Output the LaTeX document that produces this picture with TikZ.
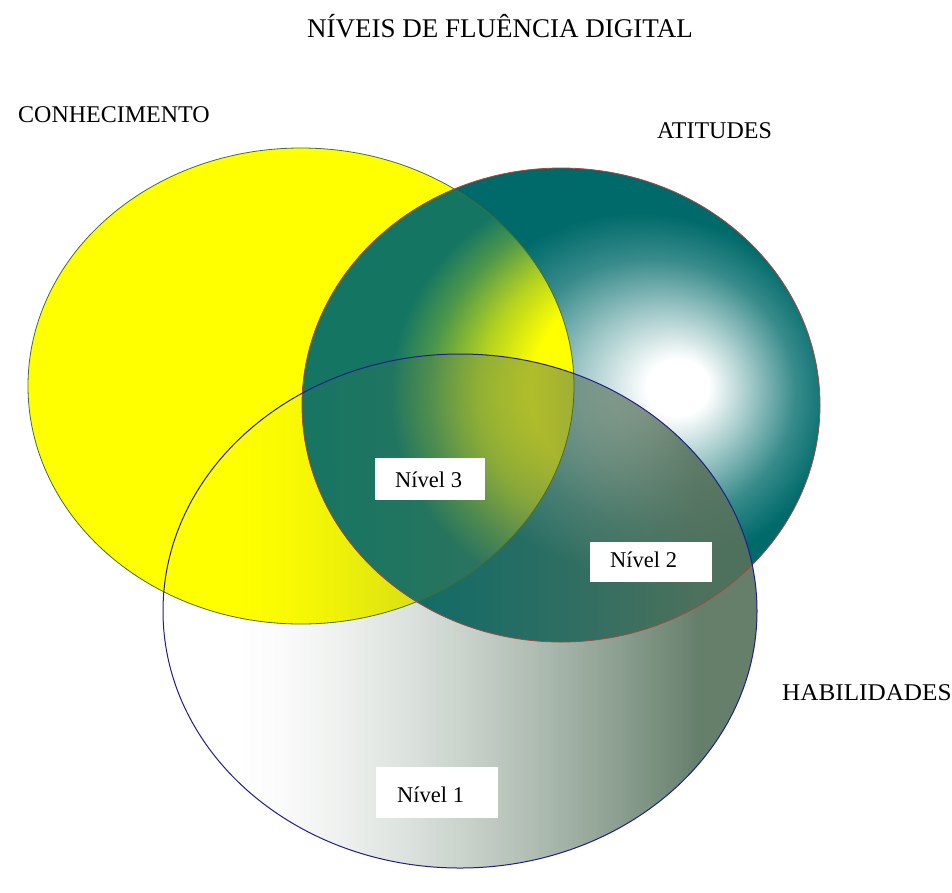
\documentclass[tikz,border=0pt]{standalone}
\usepackage{fontspec}
\setmainfont{Liberation Serif}
\definecolor{yel}{RGB}{255,255,0}
\definecolor{tealc}{RGB}{0,106,106}
\definecolor{habc}{RGB}{86,114,92}
\definecolor{yelline}{RGB}{70,110,50}
\definecolor{tealline}{RGB}{170,70,60}
\definecolor{habline}{RGB}{30,30,140}
\pgfdeclareradialshading{tealW}{\pgfpoint{12bp}{2bp}}{color(0bp)=(white); color(3bp)=(white); color(8bp)=(white!65!tealc); color(14bp)=(white!22!tealc); color(19bp)=(tealc); color(50bp)=(tealc)}
\pgfdeclareradialshading{tealY}{\pgfpoint{12bp}{2bp}}{color(0bp)=(yel); color(12bp)=(yel); color(16bp)=(yel!70!tealc); color(20bp)=(yel!30!tealc); color(23bp)=(tealc!92!yel); color(50bp)=(tealc!92!yel)}
\tikzset{
  lbl/.style={font=\fontsize{24}{26}\selectfont, anchor=base west, inner sep=0pt},
  boxw/.style={fill=white, anchor=north west, inner sep=0pt},
  niv/.style={font=\fontsize{22.5}{24}\selectfont, anchor=base west, inner sep=0pt},
}
\begin{document}
\begin{tikzpicture}[x=1pt,y=-1pt]
\useasboundingbox (0,0) rectangle (952,892);
\fill[white] (0,0) rectangle (952,892);
% fills
\fill[yel] (301,386) ellipse [x radius=273, y radius=238];
\shade[shading=tealW] (561,405) ellipse [x radius=259, y radius=237];
\begin{scope}
\clip (301,386) ellipse [x radius=273, y radius=238];
\shade[shading=tealY] (561,405) ellipse [x radius=259, y radius=237];
\end{scope}
\begin{scope}
\clip (460,611) ellipse [x radius=297, y radius=257];
\foreach \i in {0,...,199} {
  \pgfmathsetmacro{\xx}{163+3*\i}
  \pgfmathsetmacro{\tt}{max(0,min(1,((\xx+1.5-163)/594-0.12)/0.78))}
  \pgfmathsetmacro{\aa}{0.9*\tt*sqrt(\tt)}
  \fill[habc, fill opacity=\aa] (\xx,350) rectangle (\xx+3,870);
}
\end{scope}
% outlines
\draw[yelline, line width=0.8pt] (301,386) ellipse [x radius=273, y radius=238];
\draw[tealline, line width=0.8pt] (561,405) ellipse [x radius=259, y radius=237];
\draw[habline, line width=1pt] (460,611) ellipse [x radius=297, y radius=257];
% labels
\node[font=\fontsize{27}{30}\selectfont, anchor=base, inner sep=0pt] (title) at (500,37) {NÍVEIS DE FLUÊNCIA DIGITAL};
\node[lbl] (conh) at (18,122) {CONHECIMENTO};
\node[lbl] (atit) at (657,138) {ATITUDES};
\node[lbl, xscale=1.05] (habi) at (782,700) {HABILIDADES};
% level boxes
\node[boxw, minimum width=110pt, minimum height=42pt] (b3) at (375,458) {};
\node[niv] (n3) at (395,487) {Nível 3};
\node[boxw, minimum width=122pt, minimum height=40pt] (b2) at (590,542) {};
\node[niv] (n2) at (610,567) {Nível 2};
\node[boxw, minimum width=122pt, minimum height=51pt] (b1) at (376,767) {};
\node[niv] (n1) at (397,802) {Nível 1};
\end{tikzpicture}
\end{document}
